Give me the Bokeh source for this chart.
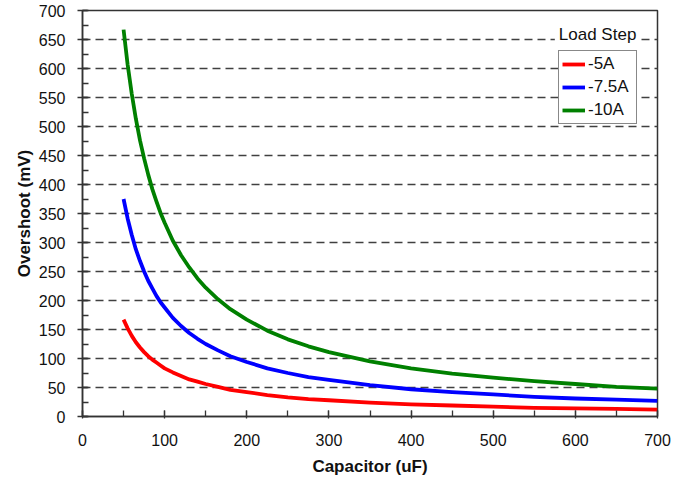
from bokeh.plotting import figure
from bokeh.models import (Range1d, SingleIntervalTicker, Legend, LegendItem, Label)
from bokeh.embed import file_html
from bokeh.resources import INLINE

# ---- data ----
capacitance = [50, 55, 60, 65, 70, 75, 80, 85, 90, 95, 100, 110, 120, 130, 140, 150,
               165, 180, 200, 225, 250, 275, 300, 350, 400, 450, 500, 550, 600, 650, 700]
overshoot_5A = [167, 152, 139, 128, 119, 111, 104, 98, 93, 88, 83, 76, 70, 64, 60, 56,
                51, 46, 42, 37, 33, 30, 28, 24, 21, 19, 17, 15, 14, 13, 12]
overshoot_7_5A = [375, 341, 313, 288, 268, 250, 234, 221, 208, 197, 188, 170, 156, 144, 134, 125,
                  114, 104, 94, 83, 75, 68, 63, 54, 47, 42, 38, 34, 31, 29, 27]
overshoot_10A = [667, 606, 556, 513, 476, 445, 417, 392, 371, 351, 334, 303, 278, 257, 238, 222,
                 202, 185, 167, 148, 133, 121, 111, 95, 83, 74, 67, 61, 56, 51, 48]
series_labels = ["-5A", "-7.5A", "-10A"]
series_colors = ["#ff0000", "#0000ff", "#008000"]
legend_title = "Load Step"
x_title = "Capacitor (uF)"
y_title = "Overshoot (mV)"

FONT = "Liberation Sans"

p = figure(width=684, height=480, output_backend="svg", toolbar_location=None,
           x_range=Range1d(0, 700), y_range=Range1d(0, 700),
           min_border_left=82, min_border_right=27, min_border_top=10,
           min_border_bottom=64, background_fill_color="white",
           border_fill_color="white")

p.outline_line_color = "#333333"
p.outline_line_width = 1.5

# axes
p.xaxis.ticker = SingleIntervalTicker(interval=100, num_minor_ticks=2)
p.yaxis.ticker = SingleIntervalTicker(interval=50, num_minor_ticks=2)
for ax in (p.xaxis, p.yaxis):
    ax.axis_line_color = "#333333"
    ax.axis_line_width = 1.5
    ax.major_tick_line_color = "#333333"
    ax.minor_tick_line_color = "#333333"
    ax.major_tick_line_width = 1.3
    ax.minor_tick_line_width = 1.3
    ax.major_label_text_font = FONT
    ax.major_label_text_font_size = "16px"
    ax.major_label_text_color = "#111111"
    ax.axis_label_text_font = FONT
    ax.axis_label_text_font_size = "17px"
    ax.axis_label_text_font_style = "bold"
    ax.axis_label_text_color = "#111111"

p.xaxis.axis_label = x_title
p.xaxis.major_tick_in = 6
p.xaxis.major_tick_out = 2
p.xaxis.minor_tick_in = 6
p.xaxis.minor_tick_out = 0
p.xaxis.major_label_standoff = 15
p.xaxis.axis_label_standoff = 8

p.yaxis.axis_label = y_title
p.yaxis.major_tick_in = 5
p.yaxis.major_tick_out = 5
p.yaxis.minor_tick_in = 6
p.yaxis.minor_tick_out = 0
p.yaxis.major_label_standoff = 12
p.yaxis.axis_label_standoff = 2

# grid
p.xgrid.grid_line_color = None
p.ygrid.grid_line_color = "#404040"
p.ygrid.grid_line_width = 1.3
p.ygrid.grid_line_dash = "8 5"

# lines
renderers = []
for vals, col in zip([overshoot_5A, overshoot_7_5A, overshoot_10A], series_colors):
    r = p.line(capacitance, vals, line_color=col, line_width=3.8, line_join="round")
    renderers.append(r)

legend = Legend(items=[LegendItem(label=lab, renderers=[r])
                       for lab, r in zip(series_labels, renderers)],
                location=(476, 292), margin=0, padding=3, spacing=3,
                glyph_width=23, glyph_height=20, label_height=20, label_width=45,
                label_standoff=3, label_text_font=FONT, label_text_font_size="17px",
                label_text_color="#111111",
                border_line_color="#111111", border_line_width=1,
                background_fill_color="white", background_fill_alpha=1.0)
p.add_layout(legend)

title_label = Label(x=575.0, y=659.0, text=legend_title, text_font=FONT,
                    text_font_size="17px", text_color="#111111",
                    text_baseline="alphabetic", text_align="left",
                    background_fill_color="white", background_fill_alpha=1.0,
                    padding=4)
p.add_layout(title_label)

open("out.html", "w").write(file_html(p, INLINE))
